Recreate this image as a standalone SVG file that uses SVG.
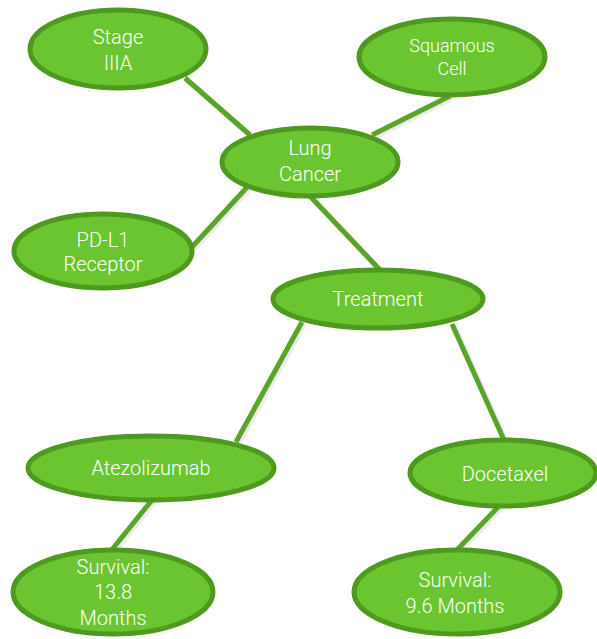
<svg xmlns="http://www.w3.org/2000/svg" width="597" height="639" viewBox="0 0 597 639">
  <defs>
    <style>
      .node ellipse { fill: #6AC530; stroke: #4E9A1F; stroke-width: 5; }
      .node text { fill: #FFFFFF; font-family: Roboto, "Liberation Sans", sans-serif; font-weight: 300; font-size: 20px; text-anchor: middle; dominant-baseline: central; }
      .node text.small { font-size: 18px; }
      .edge { stroke: #5AA42A; stroke-width: 5; stroke-linecap: butt; fill: none; }
      .shadow { stroke: #000000; stroke-opacity: 0.08; stroke-width: 6; fill: none; }
    </style>
  </defs>
  <rect width="597" height="639" fill="#FFFFFF"/>

  <!-- connectors -->
  <g id="connectors">
    <g transform="translate(2,2)">
      <line class="shadow" x1="185" y1="78" x2="250" y2="135"/>
      <line class="shadow" x1="450" y1="96" x2="372" y2="135"/>
      <line class="shadow" x1="192" y1="247" x2="250" y2="184"/>
      <line class="shadow" x1="308" y1="194" x2="380" y2="270"/>
      <line class="shadow" x1="302" y1="322" x2="236" y2="442"/>
      <line class="shadow" x1="452" y1="324" x2="504" y2="440"/>
      <line class="shadow" x1="152" y1="500" x2="110" y2="552"/>
      <line class="shadow" x1="500" y1="505" x2="455" y2="552"/>
    </g>
    <line class="edge" x1="185" y1="78" x2="250" y2="135"/>
    <line class="edge" x1="450" y1="96" x2="372" y2="135"/>
    <line class="edge" x1="192" y1="247" x2="250" y2="184"/>
    <line class="edge" x1="308" y1="194" x2="380" y2="270"/>
    <line class="edge" x1="302" y1="322" x2="236" y2="442"/>
    <line class="edge" x1="452" y1="324" x2="504" y2="440"/>
    <line class="edge" x1="152" y1="500" x2="110" y2="552"/>
    <line class="edge" x1="500" y1="505" x2="455" y2="552"/>
  </g>

  <g id="stage" class="node">
    <ellipse cx="118" cy="49" rx="88" ry="39"/>
    <text x="118" y="37">Stage</text>
    <text x="118" y="63">IIIA</text>
  </g>

  <g id="squamous" class="node">
    <ellipse cx="452" cy="57" rx="93" ry="38"/>
    <text class="small" x="452" y="45">Squamous</text>
    <text class="small" x="452" y="68">Cell</text>
  </g>

  <g id="lung" class="node">
    <ellipse cx="310" cy="162" rx="88" ry="34"/>
    <text x="310" y="148">Lung</text>
    <text x="310" y="174">Cancer</text>
  </g>

  <g id="pdl1" class="node">
    <ellipse cx="103" cy="251" rx="89" ry="37"/>
    <text x="103" y="240">PD-L1</text>
    <text x="103" y="264">Receptor</text>
  </g>

  <g id="treatment" class="node">
    <ellipse cx="378" cy="299" rx="105" ry="29"/>
    <text x="378" y="299">Treatment</text>
  </g>

  <g id="atezolizumab" class="node">
    <ellipse cx="151" cy="468" rx="123" ry="32"/>
    <text x="151" y="468">Atezolizumab</text>
  </g>

  <g id="docetaxel" class="node">
    <ellipse cx="503" cy="473" rx="93" ry="33"/>
    <text x="505" y="474">Docetaxel</text>
  </g>

  <g id="survival-atezo" class="node">
    <ellipse cx="113" cy="592" rx="100" ry="42"/>
    <text x="113" y="567">Survival:</text>
    <text x="113" y="592">13.8</text>
    <text x="113" y="618">Months</text>
  </g>

  <g id="survival-doce" class="node">
    <ellipse cx="457" cy="592" rx="103" ry="42"/>
    <text x="455" y="580">Survival:</text>
    <text x="455" y="606">9.6 Months</text>
  </g>
</svg>
